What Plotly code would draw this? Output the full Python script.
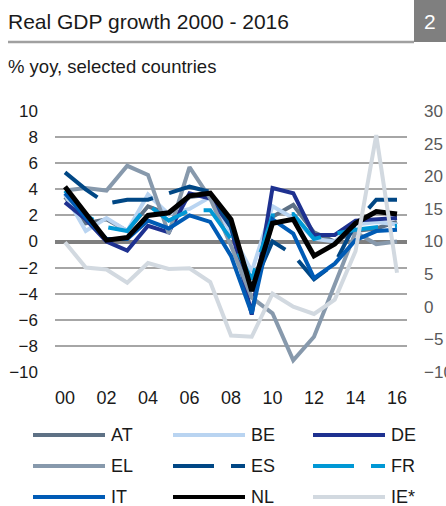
import plotly.graph_objects as go

years = list(range(2000, 2017))
x_tick_vals = [2000, 2002, 2004, 2006, 2008, 2010, 2012, 2014, 2016]
x_tick_text = ["00", "02", "04", "06", "08", "10", "12", "14", "16"]
left_ticks = [-10, -8, -6, -4, -2, 0, 2, 4, 6, 8, 10]
right_ticks = [-10, -5, 0, 5, 10, 15, 20, 25, 30]

AT = [3.4, 1.4, 1.7, 0.8, 2.7, 2.1, 3.4, 3.6, 1.5, -3.8, 1.9, 2.8, 0.7, 0.0, 0.8, 1.0, 1.5]
BE = [3.6, 0.8, 1.8, 0.8, 3.6, 2.1, 2.5, 3.4, 0.7, -2.3, 2.7, 1.8, 0.2, 0.0, 1.3, 1.5, 1.3]
DE = [3.0, 1.7, 0.0, -0.7, 1.2, 0.7, 3.7, 3.3, 1.1, -5.6, 4.1, 3.7, 0.5, 0.5, 1.6, 1.7, 1.8]
EL = [3.9, 4.1, 3.9, 5.8, 5.1, 0.6, 5.7, 3.3, -0.3, -4.3, -5.5, -9.1, -7.3, -3.2, 0.7, -0.2, 0.0]
ES = [5.3, 4.0, 2.9, 3.2, 3.2, 3.7, 4.2, 3.8, 1.1, -3.6, 0.0, -1.0, -2.9, -1.7, 1.4, 3.2, 3.2]
FR = [3.9, 2.0, 1.1, 0.8, 2.8, 1.6, 2.4, 2.4, 0.2, -2.9, 2.0, 2.1, 0.2, 0.6, 0.9, 1.1, 1.2]
IT = [3.7, 1.8, 0.2, 0.2, 1.6, 1.0, 2.0, 1.5, -1.1, -5.5, 1.7, 0.6, -2.8, -1.7, 0.1, 0.8, 0.9]
NL = [4.2, 2.1, 0.1, 0.3, 2.0, 2.2, 3.5, 3.7, 1.7, -3.8, 1.4, 1.7, -1.1, -0.2, 1.4, 2.3, 2.1]
IE = [9.9, 6.0, 5.7, 3.7, 6.7, 5.8, 5.9, 3.8, -4.4, -4.6, 2.0, 0.0, -1.1, 1.1, 8.5, 26.3, 5.2]

names = ["AT", "BE", "DE", "EL", "ES", "FR", "IT", "NL", "IE*"]
values = [AT, BE, DE, EL, ES, FR, IT, NL, IE]
colors = ["#5E7185", "#B9D4F1", "#1E3190", "#8799AC", "#004785",
          "#0098D5", "#005BB5", "#000000", "#D2D9E0"]
DASH = "41px,17px"
dashes = ["solid", "solid", "solid", "solid", DASH, DASH, "solid", "solid", "solid"]
widths = [4, 4, 4, 4, 4, 4, 4, 5, 4]
axes = ["y", "y", "y", "y", "y", "y", "y", "y", "y2"]

FONT = "Liberation Sans, Arial, sans-serif"
W, H = 446, 506
ML, MR, MT, MB = 55, 39, 111, 134
PW, PH = W - ML - MR, H - MT - MB


def px(x):
    return (x - ML) / PW


def py(y):
    return (H - MB - y) / PH


fig = go.Figure()
for n, v, c, d, w, a in zip(names, values, colors, dashes, widths, axes):
    fig.add_trace(go.Scatter(x=years, y=v, name=n, mode="lines", yaxis=a,
                             line=dict(color=c, width=w, dash=d),
                             showlegend=False, hoverinfo="skip"))

shapes = []
annotations = []
# header
shapes.append(dict(type="rect", xref="paper", yref="paper", x0=px(414), x1=px(448),
                   y0=py(-2), y1=py(42), fillcolor="#7F7F7F", line=dict(width=0), layer="above"))
shapes.append(dict(type="line", xref="paper", yref="paper", x0=px(8), x1=px(414),
                   y0=py(42), y1=py(42), line=dict(color="#A0A0A0", width=2.5)))
annotations.append(dict(text="Real GDP growth 2000 - 2016", xref="paper", yref="paper",
                        x=px(6), y=py(21), xanchor="left", yanchor="middle", showarrow=False,
                        font=dict(family=FONT, size=21, color="#1a1a1a")))
annotations.append(dict(text="2", xref="paper", yref="paper", x=px(430), y=py(21),
                        xanchor="center", yanchor="middle", showarrow=False,
                        font=dict(family=FONT, size=21, color="#ffffff")))
annotations.append(dict(text="% yoy, selected countries", xref="paper", yref="paper",
                        x=px(6), y=py(66), xanchor="left", yanchor="middle", showarrow=False,
                        font=dict(family=FONT, size=18.5, color="#1a1a1a")))

# custom legend
row_y = [435, 466, 497]
col_x = [33, 173, 313]
for i, (n, c, d) in enumerate(zip(names, colors, dashes)):
    r, k = divmod(i, 3)
    x0 = col_x[k]
    yy = row_y[r]
    shapes.append(dict(type="line", xref="paper", yref="paper", x0=px(x0), x1=px(x0 + 72),
                       y0=py(yy), y1=py(yy), line=dict(color=c, width=4, dash=d)))
    annotations.append(dict(text=n, xref="paper", yref="paper", x=px(x0 + 76), y=py(yy),
                            xanchor="left", yanchor="middle", showarrow=False,
                            font=dict(family=FONT, size=18, color="#1a1a1a")))

fig.update_layout(
    width=W, height=H, autosize=False,
    margin=dict(l=ML, r=MR, t=MT, b=MB, pad=0, autoexpand=False),
    paper_bgcolor="white", plot_bgcolor="white",
    font=dict(family=FONT, size=17, color="#1a1a1a"),
    xaxis=dict(range=[1999.518, 2016.482], tickvals=x_tick_vals, ticktext=x_tick_text,
               showgrid=False, zeroline=False, showline=False, ticks="", automargin=False,
               ticklabelstandoff=13, tickfont=dict(size=18, color="#1a1a1a")),
    yaxis=dict(range=[-10, 10], tickvals=left_ticks, showgrid=True, gridcolor="#A6A6A6",
               gridwidth=1.5, zeroline=True, zerolinecolor="#7F7F7F", zerolinewidth=3.5,
               showline=False, ticks="", ticklabelstandoff=16, automargin=False,
               tickfont=dict(size=17, color="#1a1a1a")),
    yaxis2=dict(range=[-10, 30], tickvals=right_ticks, overlaying="y", side="right",
                showgrid=False, zeroline=False, showline=False, ticks="", automargin=False,
                ticklabelstandoff=16, tickfont=dict(size=17, color="#595959")),
    shapes=shapes, annotations=annotations, showlegend=False,
)

fig.write_html("out.html", config={"displayModeBar": False},
               post_script="document.body.style.margin='0';")
